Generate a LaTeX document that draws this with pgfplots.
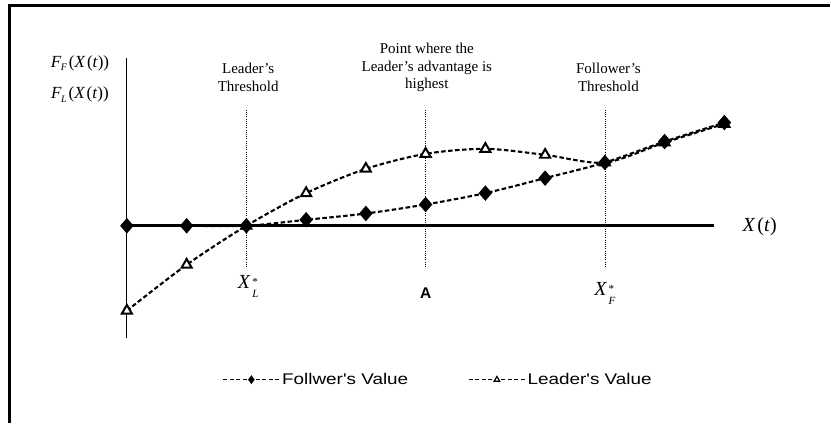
\documentclass[border=0pt]{standalone}
\usepackage{pgfplots}
\pgfplotsset{compat=1.18}
\usepackage{fontspec}
\setmainfont{Liberation Serif}
\newfontfamily\legfont[FakeStretch=1.22]{Liberation Sans}
\newfontfamily\sansA{Liberation Sans}
\newcommand\Flab[1]{\textit{F}\kern-0.5pt\raisebox{-3.5pt}{\fontsize{10}{10}\selectfont\textit{#1}}\kern2pt(\textit{X}\kern1.5pt(\textit{t}))}
\newcommand\Xlab[1]{\textit{X}\kern1.5pt\raisebox{-9pt}{\fontsize{11}{11}\selectfont\begin{tabular}[b]{@{}l@{}}*\\[1pt]\textit{#1}\end{tabular}}}
\begin{document}
\begin{tikzpicture}
\begin{axis}[
  x=59.8pt, y=10pt,
  xmin=-2.1237, xmax=11.7726, ymin=-19.7, ymax=22.6,
  hide axis, clip=false,
  legend style={at={(axis cs:1.55,-15.4)}, anchor=west, draw=none, fill=none,
    legend columns=2, font=\legfont\fontsize{15.5}{17}\selectfont,
    /tikz/every even column/.append style={column sep=58pt},
    nodes={inner sep=2pt}},
  legend image code/.code={
    \draw[#1, mark=none] (0pt,0pt) -- (56pt,0pt);
    \draw[#1, solid, mark size=3.2pt] plot coordinates {(28pt,0pt)};
  },
]
\path (axis cs:-2.1237,-19.7) rectangle (axis cs:11.7726,22.6);
% frame
\draw[line width=3pt] (axis cs:-1.957,-19.7) -- (axis cs:-1.957,22) -- (axis cs:11.76,22);
% axes
\draw[line width=1pt] (axis cs:0,16.8) -- (axis cs:0,-11.2);
\draw[line width=2.6pt] (axis cs:0,0) -- (axis cs:9.82,0);
% dotted thresholds
\foreach \xx in {2,5,8} {
  \edef\tmp{\noexpand\draw[line width=0.7pt, dash pattern=on 1pt off 1.2pt] (axis cs:\xx,11.6) -- (axis cs:\xx,-4.1);}
  \tmp
}
% legend entries
\addlegendimage{black, line width=1.5pt, dash pattern=on 4pt off 2.5pt, mark=diamond*, mark options={solid, fill=black}}
\addlegendentry{Follwer's Value}
\addlegendimage{black, line width=1.5pt, dash pattern=on 4pt off 2.5pt, mark=triangle*, mark options={solid, fill=white, line width=1.2pt}}
\addlegendentry{Leader's Value}
% Leader
\addplot[forget plot, black, line width=2.1pt, dash pattern=on 4.5pt off 2.5pt, smooth,
  mark=triangle*, mark size=5.8pt, mark options={solid, fill=white, line width=2pt}]
  coordinates {(0,-8.5)(1,-3.9)(2,0)(3,3.27)(4,5.7)(5,7.2)(6,7.7)(7,7.1)(8,6.33)(9,8.33)(10,10.2)};
% Follower
\addplot[forget plot, black, line width=2.1pt, dash pattern=on 4.5pt off 2.5pt, smooth,
  mark=diamond*, mark size=6.2pt, mark options={solid, fill=black, xscale=1.15}]
  coordinates {(0,0)(1,0)(2,0)(3,0.6)(4,1.23)(5,2.13)(6,3.27)(7,4.77)(8,6.33)(9,8.43)(10,10.33)};
% labels
\node[font=\fontsize{17}{20}\selectfont] at (axis cs:-0.786,16.3) {\Flab{F}};
\node[font=\fontsize{17}{20}\selectfont] at (axis cs:-0.786,13.1) {\Flab{L}};
\node[align=center, font=\fontsize{15}{18}\selectfont] at (axis cs:2.03,14.9) {Leader's\\Threshold};
\node[align=center, font=\fontsize{15}{18}\selectfont] at (axis cs:5.02,15.85) {Point where the\\Leader's advantage is\\highest};
\node[align=center, font=\fontsize{15}{18}\selectfont] at (axis cs:8.06,14.9) {Follower's\\Threshold};
\node[font=\fontsize{20}{22}\selectfont] at (axis cs:10.59,-0.1) {\textit{X}\kern2pt(\textit{t})};
\node[font=\fontsize{20}{22}\selectfont] at (axis cs:2.03,-6.2) {\Xlab{L}};
\node[font=\sansA\bfseries\fontsize{15.5}{17}\selectfont] at (axis cs:5.0,-6.7) {A};
\node[font=\fontsize{20}{22}\selectfont] at (axis cs:8.0,-6.9) {\Xlab{F}};
\end{axis}
\end{tikzpicture}
\end{document}
